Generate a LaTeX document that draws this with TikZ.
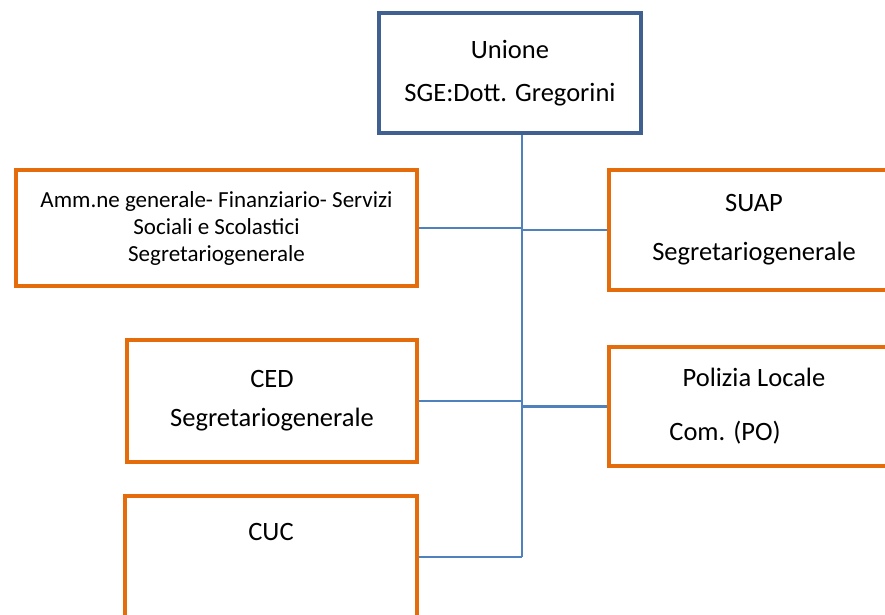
\documentclass[tikz,border=0pt]{standalone}
\usepackage{fontspec}
\setmainfont{Carlito}
\definecolor{boxorange}{HTML}{E46C0A}
\definecolor{topblue}{HTML}{3F6090}
\definecolor{linkblue}{HTML}{4F81BD}
\begin{document}
\begin{tikzpicture}[x=1pt,y=-1pt,
    unit/.style={draw=boxorange,line width=4pt,align=center,inner sep=0pt},
    head/.style={draw=topblue,line width=3.4pt,align=center,inner sep=0pt},
    link/.style={draw=linkblue,line width=2.4pt}]
  \useasboundingbox (0,0) rectangle (885,614);
  \clip (0,0) rectangle (885,614);
  \fontsize{26.5}{29}\selectfont
  \node[head,minimum width=262pt,minimum height=120pt] (unione) at (510,73)
    {Unione\\[14pt]SGE:Dott. Gregorini};
  \node[unit,minimum width=401pt,minimum height=116pt,font=\fontsize{23}{27}\selectfont] (amm) at (216.5,228)
    {Amm.ne generale- Finanziario- Servizi\\Sociali e Scolastici\\Segretariogenerale};
  \node[unit,minimum width=290pt,minimum height=120pt] (suap) at (754,230)
    {SUAP\\[20pt]Segretariogenerale};
  \node[unit,minimum width=290pt,minimum height=122pt] (ced) at (272,401)
    {CED\\[10pt]Segretariogenerale};
  \node[unit,minimum width=290pt,minimum height=119pt] (polizia) at (754,406.5)
    {Polizia Locale\\[25pt]\hspace*{-58pt}Com. (PO)};
  \node[unit,minimum width=292pt,minimum height=122pt] (cuc) at (271,557) {};
  \node (cuctext) at (cuc.north) [below=29pt,inner sep=0pt] {CUC};
  \coordinate (trunk) at (522,557);
  \begin{scope}[link]
    \draw (unione.south -| trunk) -- (trunk);
    \draw (amm.east) -- (amm.east -| trunk);
    \draw (suap.west) -- (suap.west -| trunk);
    \draw (ced.east) -- (ced.east -| trunk);
    \draw (polizia.west) -- (polizia.west -| trunk);
    \draw (cuc.east) -- (trunk);
  \end{scope}
\end{tikzpicture}
\end{document}
